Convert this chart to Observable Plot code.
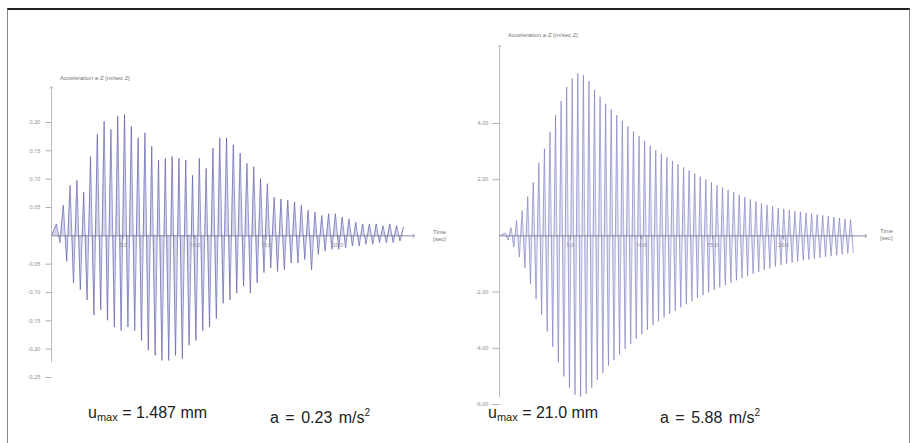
<!DOCTYPE html>
<html><head><meta charset="utf-8">
<script src="https://cdn.jsdelivr.net/npm/d3@7"></script>
<script src="https://cdn.jsdelivr.net/npm/@observablehq/plot@0.6"></script>
<style>
body{margin:0;background:#fff;font-family:"Liberation Sans",Arial,sans-serif;}
#page{position:relative;width:917px;height:443px;overflow:hidden;background:#fff;}
#frame{position:absolute;left:7px;top:8px;width:903px;height:440px;border-top:2px solid #222;border-left:1px solid #888;border-right:1px solid #888;box-sizing:border-box;}
.chart{position:absolute;top:0;}
.lbl{position:absolute;font-size:6px;color:#777;white-space:nowrap;line-height:7px;}
.big{position:absolute;font-size:16px;color:#222;white-space:nowrap;line-height:18px;}
.big sub{font-size:11px;vertical-align:-3px;}
.big sup{font-size:10px;vertical-align:7px;}
</style></head>
<body><div id="page">
<div id="frame"></div>
<div id="left" class="chart" style="left:0px"></div>
<div id="right" class="chart" style="left:458px"></div>
<div class="lbl" style="left:60px;top:75px">Acceleration a-Z [m/sec 2]</div>
<div class="lbl" style="left:508px;top:32px">Acceleration a-Z [m/sec 2]</div>
<div class="lbl" style="left:433px;top:229px">Time<br>[sec]</div>
<div class="lbl" style="left:880px;top:228px">Time<br>[sec]</div>
<div class="big" style="left:88px;top:404px">u<sub>max</sub> = 1.487 mm</div>
<div class="big" style="left:270px;top:404px;word-spacing:2px">a = 0.23 m/s<sup>2</sup></div>
<div class="big" style="left:488px;top:404px">u<sub>max</sub> = 21.0 mm</div>
<div class="big" style="left:660px;top:404px;word-spacing:2px">a = 5.88 m/s<sup>2</sup></div>
</div>
<script>
// Left: positive and negative half-cycle peaks (m/s^2)
const leftPos = [0.021,0.054,0.089,0.098,0.077,0.140,0.179,0.202,0.188,0.211,
  0.214,0.193,0.173,0.182,0.158,0.134,0.137,0.140,0.137,0.134,
  0.107,0.137,0.119,0.155,0.173,0.173,0.161,0.146,0.128,0.122,
  0.101,0.092,0.068,0.065,0.063,0.060,0.054,0.045,0.042,0.036,
  0.039,0.039,0.033,0.030,0.024,0.021,0.021,0.021,0.018,0.021,
  0.018,0.015];
const leftNeg = [-0.012,-0.045,-0.083,-0.095,-0.113,-0.140,-0.131,-0.149,-0.161,-0.167,
  -0.161,-0.167,-0.185,-0.202,-0.211,-0.220,-0.220,-0.211,-0.217,-0.193,
  -0.185,-0.167,-0.161,-0.146,-0.119,-0.113,-0.101,-0.089,-0.101,-0.083,
  -0.065,-0.057,-0.063,-0.060,-0.048,-0.048,-0.042,-0.060,-0.033,-0.027,
  -0.024,-0.024,-0.021,-0.018,-0.018,-0.015,-0.015,-0.012,-0.012,-0.012,
  -0.009];
const leftStart = 0.35, leftPeriod = 0.475;
const leftYTicks = [0.20,0.15,0.10,0.05,-0.05,-0.10,-0.15,-0.20,-0.25];
const leftYLabels = ["0.20","0.15","0.10","0.05","-0.05","-0.10","-0.15","-0.20","-0.25"];

// Right
const rightPos = [0.10,0.30,0.55,0.90,1.40,1.90,2.60,3.10,3.70,4.30,
  4.80,5.30,5.60,5.78,5.72,5.50,5.20,4.95,4.70,4.50,
  4.30,4.10,3.90,3.72,3.55,3.38,3.20,3.05,2.92,2.80,
  2.67,2.55,2.44,2.33,2.22,2.11,2.00,1.90,1.80,1.72,
  1.64,1.55,1.46,1.38,1.30,1.23,1.16,1.10,1.05,1.00,
  0.96,0.92,0.88,0.85,0.82,0.79,0.76,0.73,0.70,0.67,
  0.64,0.61,0.58];
const rightNeg = [-0.15,-0.40,-0.75,-1.15,-1.70,-2.25,-2.80,-3.40,-3.95,-4.50,
  -5.00,-5.40,-5.65,-5.72,-5.62,-5.40,-5.12,-4.88,-4.62,-4.42,
  -4.22,-4.02,-3.84,-3.66,-3.50,-3.34,-3.18,-3.04,-2.90,-2.78,
  -2.66,-2.54,-2.43,-2.32,-2.21,-2.11,-2.01,-1.92,-1.83,-1.75,
  -1.67,-1.58,-1.50,-1.42,-1.35,-1.28,-1.21,-1.15,-1.09,-1.04,
  -0.99,-0.95,-0.91,-0.87,-0.84,-0.81,-0.78,-0.75,-0.72,-0.69,
  -0.66,-0.63,-0.60];
const rightStart = 0.42, rightPeriod = 0.392;
const rightYTicks = [4,2,-2,-4,-6];
const rightYLabels = ["4.00","2.00","-2.00","-4.00","-6.00"];

const xTicks = [5,10,15,20];
const xLabels = ["5.0","10.0","15.0","20.0"];

function series(pos, neg, t0, P) {
  const d = [{t: 0, a: 0}];
  for (let i = 0; i < pos.length; i++) {
    d.push({t: t0 + i * P, a: pos[i]});
    if (i < neg.length) d.push({t: t0 + i * P + P / 2, a: neg[i]});
  }
  return d;
}

function chart(o) {
  const data = series(o.pos, o.neg, o.t0, o.P);
  const yT = o.yTicks.map((v, i) => ({v, l: o.yLabels[i]}));
  const xT = xTicks.map((v, i) => ({v, l: xLabels[i]}));
  return Plot.plot({
    width: o.width, height: 443,
    margin: 0,
    style: {background: "transparent", overflow: "visible"},
    x: {domain: [0, 25], range: o.xr, axis: null},
    y: {domain: o.yDomain, range: o.yr, axis: null},
    marks: [
      Plot.areaY(data, {x: "t", y: "a", fill: o.stroke, fillOpacity: o.fillOp}),
      Plot.line(data, {x: "t", y: "a", stroke: o.stroke, strokeWidth: 0.75, strokeOpacity: o.op}),
      Plot.link([0], {x1: 0, x2: o.xEnd, y1: 0, y2: 0, stroke: "#6a6a8a", strokeWidth: 0.8, markerEnd: "arrow"}),
      Plot.link([0], {x1: 0, x2: 0, y1: o.yBottom, y2: o.yTop, stroke: "#aaa", strokeWidth: 0.8, markerEnd: "arrow"}),
      Plot.link(yT, {x1: -o.tickT, x2: 0, y1: "v", y2: "v", stroke: "#999", strokeWidth: 0.8}),
      Plot.text(yT, {x: 0, y: "v", text: "l", textAnchor: "end", dx: -11, fontSize: 5.5, fill: "#888"}),
      Plot.ruleX(xT, {x: "v", y1: 0, y2: o.xTickLen, stroke: "#888", strokeWidth: 0.8}),
      Plot.text(xT, {x: "v", y: 0, text: "l", dy: 9, fontSize: 5.5, fill: "#888"})
    ]
  });
}

document.getElementById("left").appendChild(chart({
  pos: leftPos, neg: leftNeg, t0: leftStart, P: leftPeriod,
  width: 458, xr: [51, 409], yDomain: [-0.25, 0.20], yr: [377, 122],
  yTicks: leftYTicks, yLabels: leftYLabels,
  xEnd: 25.3, yBottom: -0.223, yTop: 0.262, tickT: 0.42, xTickLen: -0.007,
  stroke: "#4f4fa8", op: 0.8, fillOp: 0.24
}));
document.getElementById("right").appendChild(chart({
  pos: rightPos, neg: rightNeg, t0: rightStart, P: rightPeriod,
  width: 459, xr: [41, 396], yDomain: [-6, 4], yr: [404, 123],
  yTicks: rightYTicks, yLabels: rightYLabels,
  xEnd: 25.8, yBottom: -5.73, yTop: 6.76, tickT: 0.5, xTickLen: -0.14,
  stroke: "#6666b8", op: 0.7, fillOp: 0.2
}));
</script>
</body></html>
